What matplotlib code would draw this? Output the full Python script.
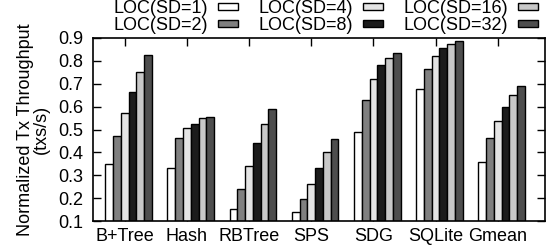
import numpy as np
import matplotlib
matplotlib.use("Agg")
import matplotlib.pyplot as plt

plt.rcParams["font.family"] = ["Liberation Sans", "DejaVu Sans"]
plt.rcParams["font.size"] = 13

categories = ["B+Tree", "Hash", "RBTree", "SPS", "SDG", "SQLite", "Gmean"]
series_labels = ["LOC(SD=1)", "LOC(SD=2)", "LOC(SD=4)",
                 "LOC(SD=8)", "LOC(SD=16)", "LOC(SD=32)"]

sd1 = [0.351, 0.330, 0.151, 0.139, 0.490, 0.677, 0.357]
sd2 = [0.471, 0.462, 0.239, 0.197, 0.630, 0.764, 0.462]
sd4 = [0.571, 0.507, 0.342, 0.262, 0.722, 0.820, 0.539]
sd8 = [0.665, 0.525, 0.440, 0.332, 0.783, 0.855, 0.600]
sd16 = [0.753, 0.549, 0.525, 0.401, 0.814, 0.874, 0.653]
sd32 = [0.826, 0.555, 0.590, 0.460, 0.835, 0.886, 0.690]
series = [sd1, sd2, sd4, sd8, sd16, sd32]

colors = ["#ffffff", "#808080", "#e4e4e4", "#1c1c1c", "#c8c8c8", "#4e4e4e"]

fig = plt.figure(figsize=(5.46, 2.52), dpi=100)
ax = fig.add_axes([93 / 546, 1 - 221 / 252, 452 / 546, 183 / 252])

x = np.arange(len(categories))
width = 0.125
for j, (vals, lab, col) in enumerate(zip(series, series_labels, colors)):
    ax.bar(x + (j - 2) * width, vals, width, label=lab, color=col,
           edgecolor="black", linewidth=1.0, zorder=2)

ax.set_xlim(-0.51, 6.76)
ax.set_ylim(0.1, 0.9)
yt = np.arange(0.1, 0.91, 0.1)
ax.set_yticks(yt)
ax.set_yticklabels([f"{v:.1f}" for v in yt])
ax.set_xticks(x)
ax.set_xticklabels(categories)

ax.tick_params(axis="y", direction="in", length=6, width=1, left=True, right=True, pad=7)
ax.tick_params(axis="x", direction="in", length=6, width=1, top=True, bottom=True, pad=5)
for s in ax.spines.values():
    s.set_linewidth(1.2)

ax.set_ylabel("Normalized Tx Throughput\n(txs/s)", linespacing=0.9)
ax.yaxis.set_label_coords(-0.095, 0.5)

fig.legend(loc="upper right", bbox_to_anchor=(0.985, 1.0), ncol=3,
           frameon=False, markerfirst=False, fontsize=13,
           handlelength=1.1, handleheight=0.28, handletextpad=0.55,
           columnspacing=1.15, labelspacing=0.0, borderpad=0, borderaxespad=0)

fig.savefig("out.png", dpi=100)
